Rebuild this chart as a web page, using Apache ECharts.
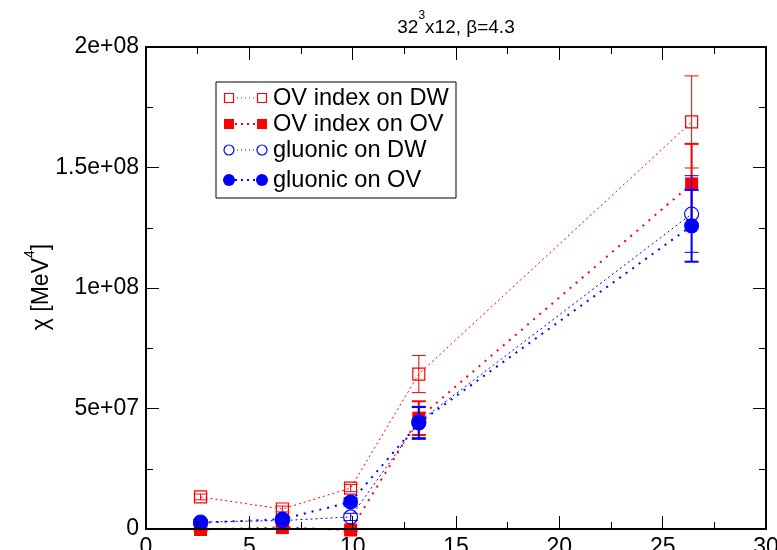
<!DOCTYPE html>
<html>
<head>
<meta charset="utf-8">
<script src="https://cdn.jsdelivr.net/npm/echarts@6/dist/echarts.min.js"></script>
<style>
  html, body { margin: 0; padding: 0; background: #fff; }
  #chart { width: 777px; height: 550px; }
</style>
</head>
<body>
<div id="chart"></div>
<script>
// Temperature points (x) and topological susceptibility (y) with errors
const temps = [2.64, 6.6, 9.9, 13.2, 26.4];

const ovIndexDW    = [1.33e7, 8.3e6, 1.7e7, 6.43e7, 1.689e8];
const ovIndexDWErr = [1.2e6, 1.2e6, 1.5e6, 7.7e6, 1.91e7];

const ovIndexOV    = [-2e5, 6e5, -4e5, 4.6e7, 1.432e8];
const ovIndexOVErr = [5e5, 5e5, 5e5, 7e6, 1.66e7];

const gluonicDW    = [2.9e6, 3.5e6, 5.0e6, 4.44e7, 1.307e8];
const gluonicDWErr = [1.0e6, 1.0e6, 1.5e6, 6.5e6, 1.59e7];

const gluonicOV    = [2.6e6, 4.1e6, 1.12e7, 4.4e7, 1.258e8];
const gluonicOVErr = [1.0e6, 1.0e6, 1.5e6, 6.6e6, 1.49e7];

const seriesNames = ['OV index on DW', 'OV index on OV', 'gluonic on DW', 'gluonic on OV'];
const xTickLabels = ['0', '5', '10', '15', '20', '25', '30'];
const yTickLabels = ['0', '5e+07', '1e+08', '1.5e+08', '2e+08'];

const FONT = "'Liberation Sans', Arial, Helvetica, sans-serif";
const RED = '#ff0000';
const BLUE = '#0000ff';

// Per-series drawing style
const styles = [
  { values: ovIndexDW, errs: ovIndexDWErr, color: RED,  symbol: 'rect',   size: 12, legendSize: 9,  filled: false, lw: 1, dash: [2, 3], capW: 1 },
  { values: ovIndexOV, errs: ovIndexOVErr, color: RED,  symbol: 'rect',   size: 13, legendSize: 10, filled: true,  lw: 2, dash: [2, 6], capW: 2 },
  { values: gluonicDW, errs: gluonicDWErr, color: BLUE, symbol: 'circle', size: 14, legendSize: 10, filled: false, lw: 1, dash: [2, 3], capW: 1 },
  { values: gluonicOV, errs: gluonicOVErr, color: BLUE, symbol: 'circle', size: 15, legendSize: 12, filled: true,  lw: 2, dash: [2, 6], capW: 2 }
];

const series = [];
styles.forEach((s, k) => {
  // error bars
  series.push({
    type: 'custom',
    name: seriesNames[k] + ' err',
    z: 3 + k,
    clip: false,
    silent: true,
    encode: { x: 0, y: [1, 2] },
    data: temps.map((t, i) => [t, s.values[i] - s.errs[i], s.values[i] + s.errs[i]]),
    renderItem: function (params, api) {
      const x = api.value(0);
      const lo = api.coord([x, api.value(1)]);
      const hi = api.coord([x, api.value(2)]);
      const hw = 7;
      const st = { stroke: s.color, lineWidth: s.capW };
      return {
        type: 'group',
        children: [
          { type: 'line', shape: { x1: lo[0], y1: lo[1], x2: hi[0], y2: hi[1] }, style: st },
          { type: 'line', shape: { x1: lo[0] - hw, y1: lo[1], x2: lo[0] + hw, y2: lo[1] }, style: st },
          { type: 'line', shape: { x1: hi[0] - hw, y1: hi[1], x2: hi[0] + hw, y2: hi[1] }, style: st }
        ]
      };
    }
  });
  // points joined by dotted line
  series.push({
    type: 'line',
    name: seriesNames[k],
    z: 3 + k,
    clip: false,
    silent: true,
    data: temps.map((t, i) => [t, s.values[i]]),
    symbol: s.symbol,
    symbolSize: s.size,
    showAllSymbol: true,
    itemStyle: {
      color: s.filled ? s.color : 'rgba(255,255,255,0)',
      borderColor: s.color,
      borderWidth: s.filled ? 0 : 1.2
    },
    lineStyle: { color: s.color, width: s.lw, type: s.dash },
    emphasis: { disabled: true }
  });
});

// Legend drawn as graphic elements
const legendGraphics = [
  { type: 'rect', shape: { x: 216, y: 82, width: 240, height: 116 },
    style: { fill: '#fff', stroke: '#000', lineWidth: 1 }, z: 100 }
];
const rowY = [98, 124, 150, 180];
styles.forEach((s, k) => {
  const cy = rowY[k];
  const xs = [229, 262];
  legendGraphics.push({
    type: 'line', z: 101,
    shape: { x1: xs[0], y1: cy, x2: xs[1], y2: cy },
    style: { stroke: s.color, lineWidth: s.lw, lineDash: s.filled ? [2, 4] : [1, 3] }
  });
  xs.forEach(cx => {
    const st = {
      fill: s.filled ? s.color : '#fff',
      stroke: s.color,
      lineWidth: s.filled ? 0 : 1.2
    };
    const h = s.legendSize / 2;
    if (s.symbol === 'rect') {
      legendGraphics.push({ type: 'rect', z: 102, shape: { x: cx - h, y: cy - h, width: 2 * h, height: 2 * h }, style: st });
    } else {
      legendGraphics.push({ type: 'circle', z: 102, shape: { cx: cx, cy: cy, r: h }, style: st });
    }
  });
  legendGraphics.push({
    type: 'text', z: 102, x: 273, y: cy,
    style: { text: seriesNames[k], fontSize: 23.6, fontFamily: FONT, fill: '#000', verticalAlign: 'middle', align: 'left' }
  });
});

// Title and y-axis name with superscripts
const titleGraphic = {
  type: 'text', x: 456, y: 10, z: 100,
  style: {
    text: '{n|32}{s|3}{n|x12, β=4.3}',
    align: 'center',
    fill: '#000',
    rich: {
      n: { fontSize: 19, fontFamily: FONT, lineHeight: 27, verticalAlign: 'bottom', fill: '#000' },
      s: { fontSize: 12, fontFamily: FONT, lineHeight: 12, verticalAlign: 'top', fill: '#000' }
    }
  }
};
const yNameGraphic = {
  type: 'text', x: 38, y: 287, rotation: Math.PI / 2, z: 100,
  style: {
    text: '{n|χ [MeV}{s|4}{n|]}',
    align: 'center',
    verticalAlign: 'middle',
    fill: '#000',
    rich: {
      n: { fontSize: 23, fontFamily: FONT, lineHeight: 30, verticalAlign: 'bottom', fill: '#000' },
      s: { fontSize: 14, fontFamily: FONT, lineHeight: 14, verticalAlign: 'top', fill: '#000' }
    }
  }
};

const tickCommon = {
  axisLine: { show: true, onZero: false, lineStyle: { color: '#000', width: 2 } },
  axisTick: { show: true, inside: true, length: 13, lineStyle: { color: '#000', width: 1 } },
  minorTick: { show: true, splitNumber: 2, length: 7, lineStyle: { color: '#000', width: 1 } },
  splitLine: { show: false },
  minorSplitLine: { show: false },
  z: 20
};

const option = {
  animation: false,
  backgroundColor: '#fff',
  grid: { left: 146, right: 11, top: 47, bottom: 21, containLabel: false, outerBoundsMode: 'none' },
  xAxis: [
    Object.assign({
      type: 'value', min: 0, max: 30, interval: 5, position: 'bottom',
      axisLabel: {
        show: true, margin: 7, fontSize: 23, fontFamily: FONT, color: '#000',
        showMinLabel: true, showMaxLabel: true, hideOverlap: false,
        formatter: v => xTickLabels[Math.round(v / 5)]
      }
    }, tickCommon),
    Object.assign({
      type: 'value', min: 0, max: 30, interval: 5, position: 'top',
      axisLabel: { show: false }
    }, tickCommon)
  ],
  yAxis: [
    Object.assign({
      type: 'value', min: 0, max: 2e8, interval: 5e7, position: 'left',
      axisLabel: {
        show: true, margin: 7, fontSize: 23, fontFamily: FONT, color: '#000',
        showMinLabel: true, showMaxLabel: true, hideOverlap: false,
        formatter: v => yTickLabels[Math.round(v / 5e7)]
      }
    }, tickCommon),
    Object.assign({
      type: 'value', min: 0, max: 2e8, interval: 5e7, position: 'right',
      axisLabel: { show: false }
    }, tickCommon)
  ],
  graphic: [titleGraphic, yNameGraphic].concat(legendGraphics),
  series: series
};

const chart = echarts.init(document.getElementById('chart'), null, { renderer: 'canvas' });
chart.setOption(option);
</script>
</body>
</html>
